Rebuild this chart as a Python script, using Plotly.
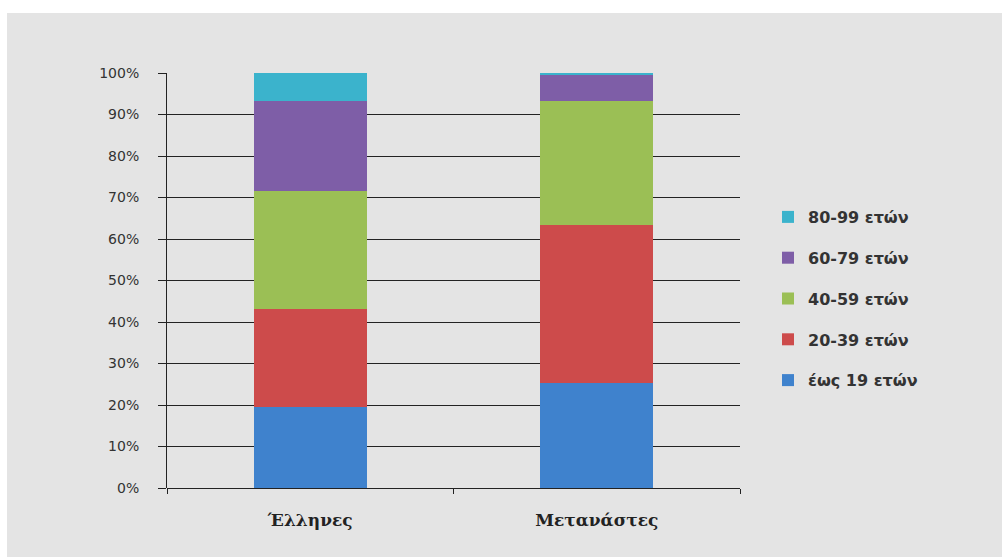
import plotly.graph_objects as go

categories = ["Έλληνες", "Μετανάστες"]
series_names = ["έως 19 ετών", "20-39 ετών", "40-59 ετών", "60-79 ετών", "80-99 ετών"]
vals_0_19 = [19.5, 25.3]
vals_20_39 = [23.6, 38.1]
vals_40_59 = [28.5, 29.9]
vals_60_79 = [21.7, 6.4]
vals_80_99 = [6.7, 0.3]
y_ticks = [0, 10, 20, 30, 40, 50, 60, 70, 80, 90, 100]
y_tick_labels = [f"{v}%" for v in y_ticks]

colors = ["#3f82cd", "#cd4b4b", "#9bbf55", "#7e5ea7", "#3bb3cc"]
series_vals = [vals_0_19, vals_20_39, vals_40_59, vals_60_79, vals_80_99]

fig = go.Figure()
n = len(series_names)
for i, (name, vals, col) in enumerate(zip(series_names, series_vals, colors)):
    fig.add_trace(go.Bar(
        x=categories, y=vals, name=name, marker=dict(color=col, line=dict(width=0)),
        legendgroup=name, legendrank=n - i,
    ))

L, R, T, B = 167, 262, 73, 69
PW, PH = 1002 - L - R, 557 - T - B

def px2x(p):
    return (p - L) / PW

def py2y(p):
    return (557 - B - p) / PH

fig.update_layout(
    width=1002, height=557,
    barmode="stack", bargap=0.605,
    paper_bgcolor="#e4e4e4", plot_bgcolor="#e4e4e4",
    margin=dict(l=L, r=R, t=T, b=B),
    font=dict(family="Lato", color="#333333"),
    showlegend=True,
    legend=dict(
        traceorder="grouped", tracegroupgap=17,
        x=px2x(768), y=py2y(200), xanchor="left", yanchor="top",
        font=dict(family="DejaVu Sans", size=16, color="#333333", weight="bold"),
        bgcolor="rgba(0,0,0,0)", itemwidth=30,
    ),
    xaxis=dict(
        type="category", showline=False, ticks="outside", tickson="boundaries",
        ticklen=5, tickcolor="#222222", tickwidth=1, showgrid=False,
        tickfont=dict(family="DejaVu Serif", size=17, color="#222222", weight="bold"),
        ticklabelstandoff=20,
    ),
    yaxis=dict(
        range=[0, 100], tickvals=y_ticks, ticktext=y_tick_labels,
        showline=True, linecolor="#222222", linewidth=1,
        ticks="outside", ticklen=8, tickcolor="#222222",
        showgrid=True, gridcolor="#222222", gridwidth=1,
        zeroline=True, zerolinecolor="#222222", zerolinewidth=1,
        tickfont=dict(family="DejaVu Sans", size=14, color="#333333"),
        ticklabelstandoff=16, layer="below traces",
    ),
    shapes=[
        dict(type="rect", xref="paper", yref="paper", x0=px2x(-5), x1=px2x(1010),
             y0=py2y(13), y1=py2y(-5), fillcolor="white", line=dict(width=0), layer="below"),
        dict(type="rect", xref="paper", yref="paper", x0=px2x(-5), x1=px2x(7),
             y0=py2y(560), y1=py2y(-5), fillcolor="white", line=dict(width=0), layer="below"),
    ],
)

fig.write_html("out.html")
